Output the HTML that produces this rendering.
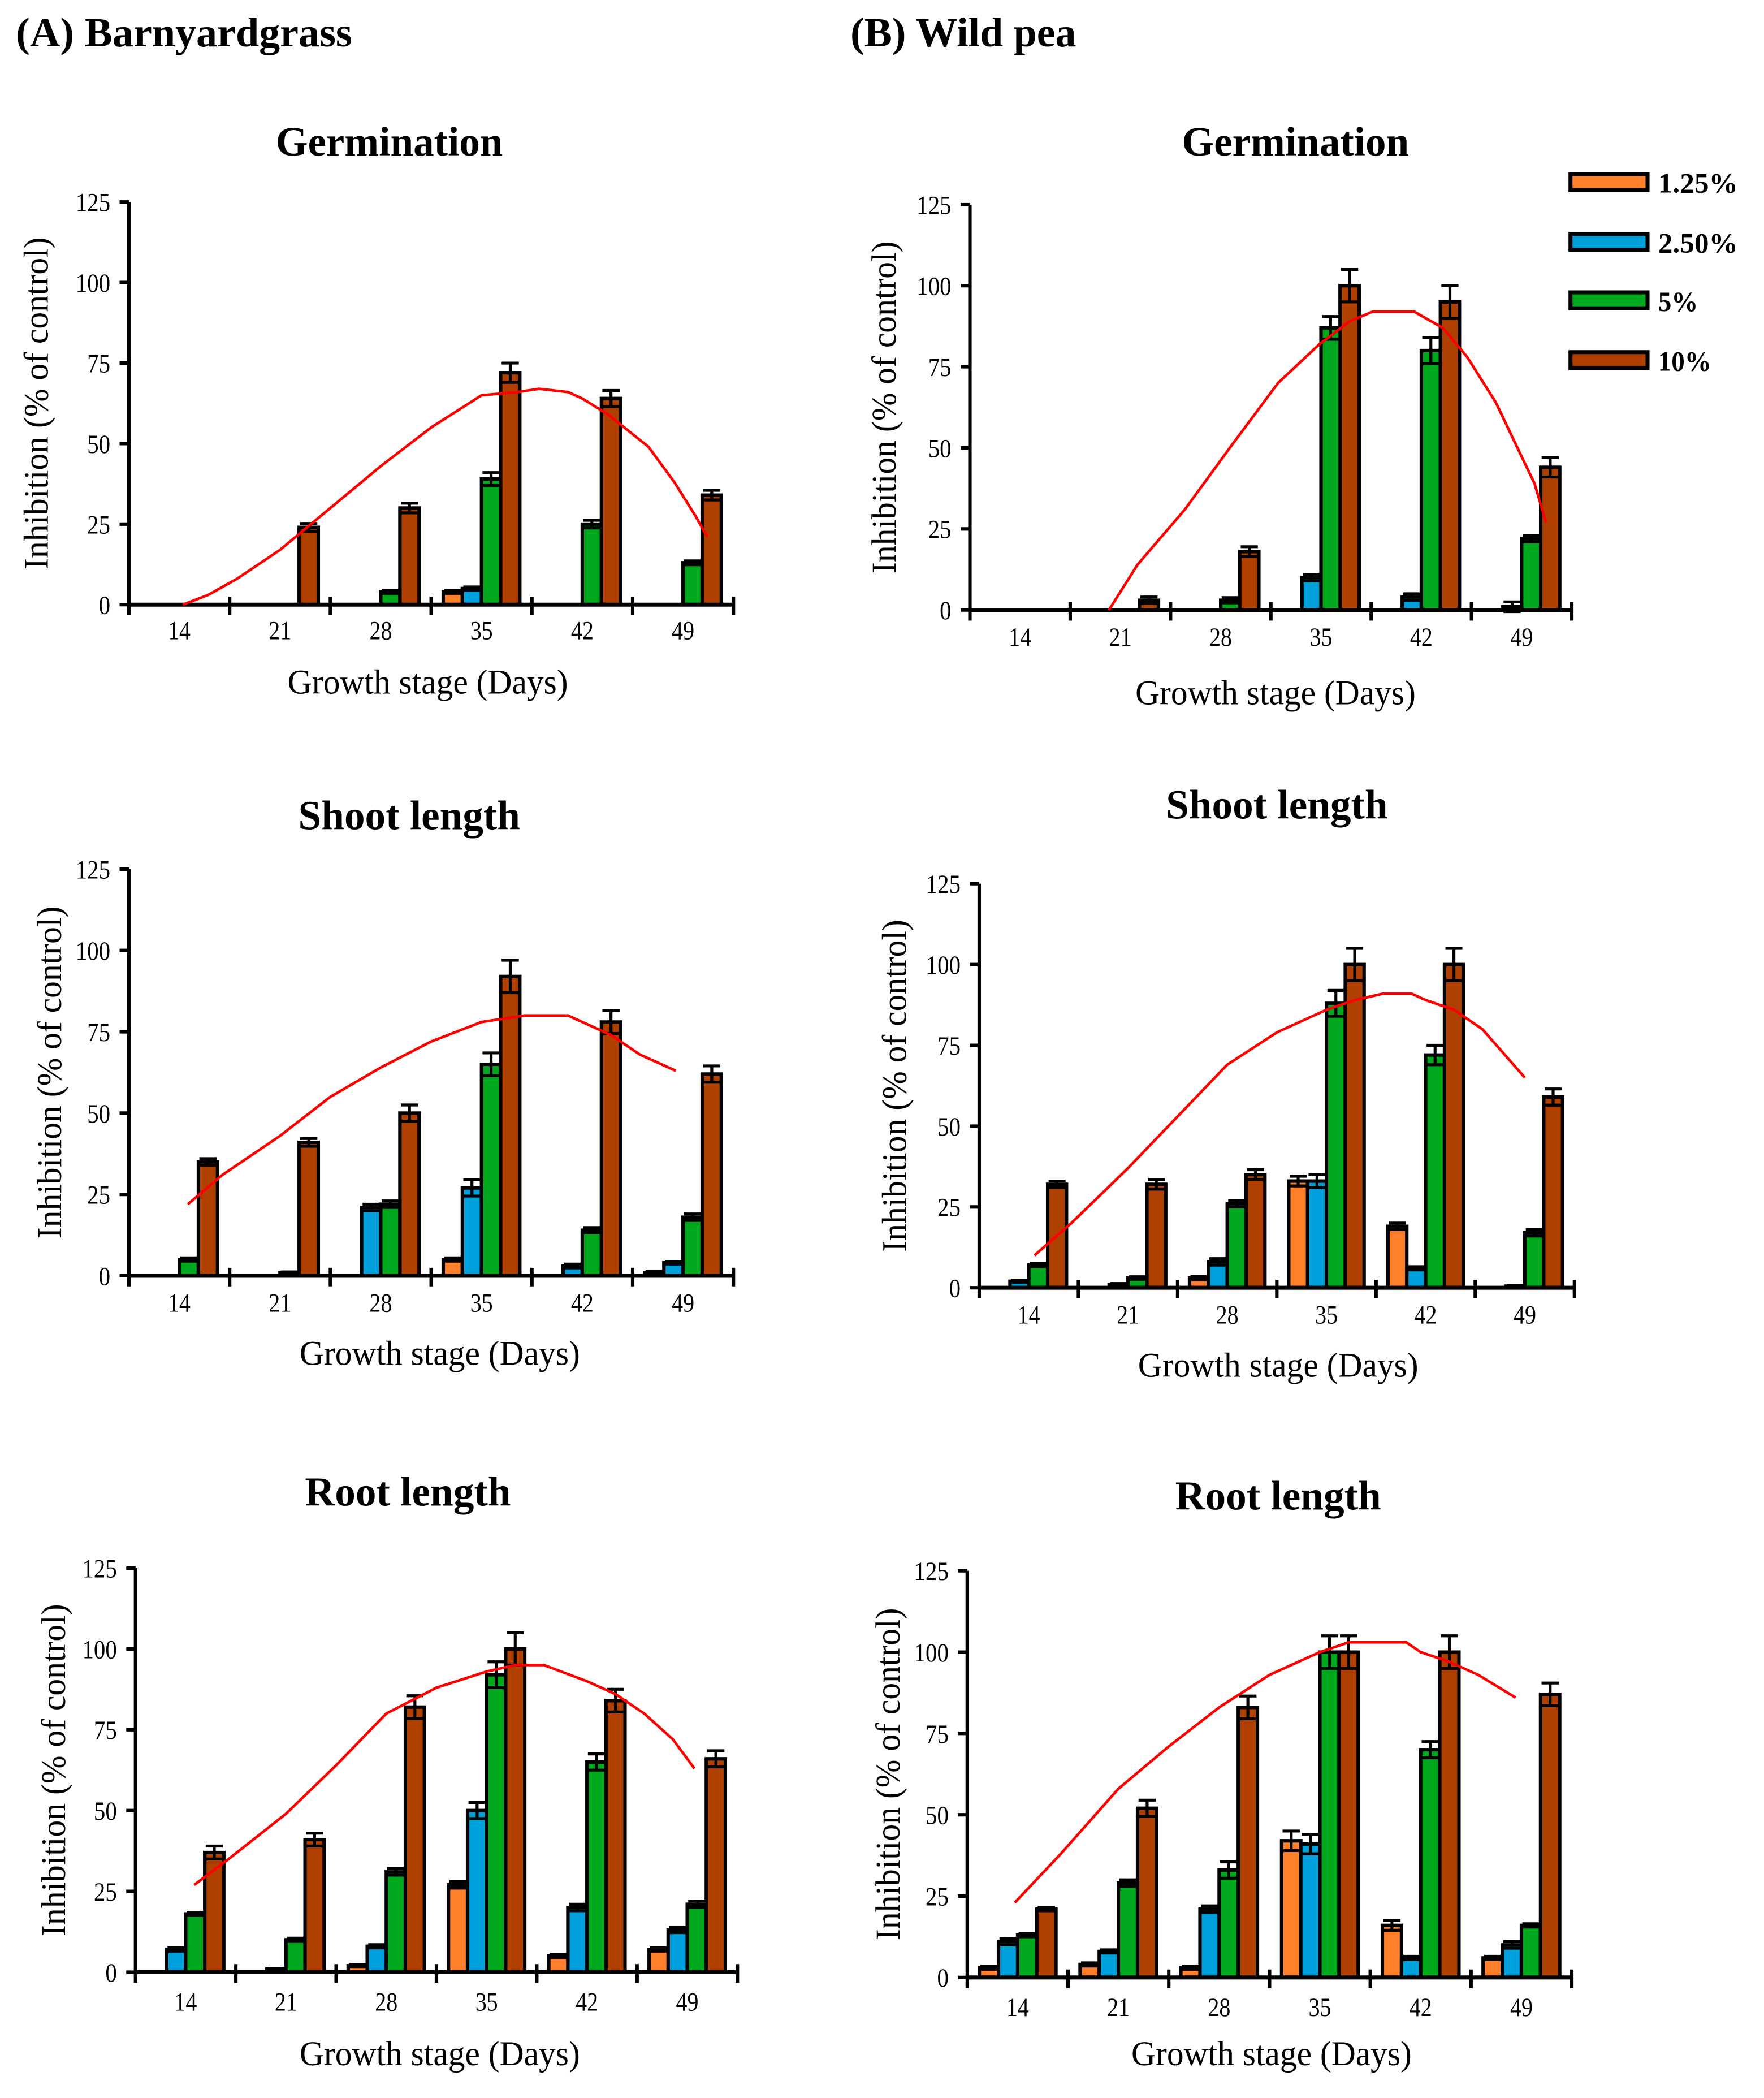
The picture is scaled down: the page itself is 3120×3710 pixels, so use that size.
<!DOCTYPE html>
<html><head><meta charset="utf-8"><style>
html,body{margin:0;padding:0;background:#fff;}
svg{display:block;}
</style></head><body>
<svg id="fig" width="3120" height="3710" viewBox="0 0 1327.66 1578.72" xmlns="http://www.w3.org/2000/svg" font-family="'Liberation Serif', serif">
<rect width="1327.66" height="1578.72" fill="#fff"/>
<text x="12" y="35" font-size="31" font-weight="bold" textLength="253" lengthAdjust="spacingAndGlyphs">(A) Barnyardgrass</text>
<text x="640" y="35" font-size="31" font-weight="bold" textLength="170" lengthAdjust="spacingAndGlyphs">(B) Wild pea</text>
<g>
<rect x="1182" y="131" width="58" height="12" fill="#FF7F2A" stroke="#000" stroke-width="3"/>
<text x="1248" y="145" font-size="21" font-weight="bold" textLength="60" lengthAdjust="spacingAndGlyphs">1.25%</text>
<rect x="1182" y="176" width="58" height="12" fill="#00A0DC" stroke="#000" stroke-width="3"/>
<text x="1248" y="190" font-size="21" font-weight="bold" textLength="60" lengthAdjust="spacingAndGlyphs">2.50%</text>
<rect x="1182" y="220" width="58" height="12" fill="#00A81E" stroke="#000" stroke-width="3"/>
<text x="1248" y="234" font-size="21" font-weight="bold" textLength="30" lengthAdjust="spacingAndGlyphs">5%</text>
<rect x="1182" y="265" width="58" height="12" fill="#B04000" stroke="#000" stroke-width="3"/>
<text x="1248" y="279" font-size="21" font-weight="bold" textLength="40" lengthAdjust="spacingAndGlyphs">10%</text>
</g>
</svg>
<script>
// ---- data ----
const categories = [14, 21, 28, 35, 42, 49];
const yTicks = [0, 25, 50, 75, 100, 125];
const seriesNames = ['1.25%', '2.50%', '5%', '10%'];

const aGermC125 = [0, 0, 0, 4, 0, 0];
const aGermC250 = [0, 0, 0, 5, 0, 0];
const aGermC5 = [0, 0, 4, 39, 25, 13];
const aGermC10 = [0, 24, 30, 72, 64, 34];
const aGermErr = [[0,0,0,0.5,0,0],[0,0,0,0.5,0,0],[0,0,0.5,2,1.2,0.6],[0,1.2,1.5,3,2.5,1.5]];
const aGermTrendX = [14.25,16,18,21,24.5,28,31.5,35,37.5,39,41,42,43.8,46.6,48.4,49.8,50.7];
const aGermTrendY = [0,3,8,17,30,43,55,65,66,67,66,64,59,49,38,28,21];

const bGermC125 = [0, 0, 0, 0, 0, 0];
const bGermC250 = [0, 0, 0, 10, 4, 1];
const bGermC5 = [0, 0, 3, 87, 80, 22];
const bGermC10 = [0, 3, 18, 100, 95, 44];
const bGermErr = [[0,0,0,0,0,0],[0,0,0,1,1,1.5],[0,0,0.8,3.5,4,1],[0,1,1.5,5,5,3]];
const bGermTrendX = [20.2,22.2,25.5,28.8,32,34.9,37,38.6,41.5,43.5,45.2,47.2,48.6,49.9,50.7];
const bGermTrendY = [0,14,31,51,70,82,89,92,92,87,78,64,51,39,27];

const aShootC125 = [0, 0, 0, 5, 0, 1];
const aShootC250 = [0, 0, 21, 27, 3, 4];
const aShootC5 = [5, 1, 22, 65, 14, 18];
const aShootC10 = [35, 41, 50, 92, 78, 62];
const aShootErr = [[0,0,0,0.5,0,0.3],[0,0,1,2.5,0.6,0.4],[0.5,0.2,1,3.5,0.8,1],[1,1.2,2.5,5,3.5,2.5]];
const aShootTrendX = [14.6,17,21,24.5,28,31.5,35,38,41,42,44,46,48.5];
const aShootTrendY = [22,31,43,55,64,72,78,80,80,78,74,68,63];

const bShootC125 = [0, 0, 3, 33, 19, 0];
const bShootC250 = [2, 1, 8, 33, 6, 0.5];
const bShootC5 = [7, 3, 26, 88, 72, 17];
const bShootC10 = [32, 32, 35, 100, 100, 59];
const bShootErr = [[0,0,0.5,1.5,1,0],[0.3,0.3,1,2,0.5,0.2],[0.5,0.4,1,4,3,1],[1,1.5,1.5,5,5,2.5]];
const bShootTrendX = [14.4,17,21,24.5,28,31.5,35,37,39,41,42,44,46,49];
const bShootTrendY = [10,20,37,53,69,79,86,89,91,91,89,86,80,65];

const aRootC125 = [0, 0, 2, 27, 5, 7];
const aRootC250 = [7, 1, 8, 50, 20, 13];
const aRootC5 = [18, 10, 31, 92, 65, 21];
const aRootC10 = [37, 41, 82, 100, 84, 66];
const aRootErr = [[0,0,0.3,1,0.5,0.5],[0.5,0.2,0.5,2.5,1,0.8],[0.5,0.5,1,4,2.5,1],[2,2,3.5,5,3.5,2.5]];
const aRootTrendX = [14.6,17,21,24.5,28,31.5,35,37,39,42,44,46,48,49.5];
const aRootTrendY = [27,35,49,64,80,88,93,95,95,90,86,80,72,63];

const bRootC125 = [3, 4, 3, 42, 16, 6];
const bRootC250 = [11, 8, 21, 41, 6, 10];
const bRootC5 = [13, 29, 33, 100, 70, 16];
const bRootC10 = [21, 52, 83, 100, 100, 87];
const bRootErr = [[0.5,0.5,0.5,3,1.5,0.5],[1,0.5,1,3,0.5,1],[0.5,1,2.5,5,2.5,0.5],[0.5,2.5,3.5,5,5,3.5]];
const bRootTrendX = [13.8,17,21,24.5,28,31.5,35,37,41,42,44,46,48.6];
const bRootTrendY = [23,38,58,71,83,93,100,103,103,100,97,93,86];

// ---- layout ----
const colors = ['#FF7F2A', '#00A0DC', '#00A81E', '#B04000'];
const panels = [
 {id:'a-germination', title:'Germination', x0:97, x1:552, y0:455, y1:152, tx:293, ty:107, tw:171, lx:322, ly:513, ylx:27, tly:474, s:[aGermC125,aGermC250,aGermC5,aGermC10], e:aGermErr, trx:aGermTrendX, try_:aGermTrendY},
 {id:'b-germination', title:'Germination', x0:730, x1:1183, y0:459, y1:154, tx:975, ty:107, tw:171, lx:960, ly:521, ylx:665, tly:479, s:[bGermC125,bGermC250,bGermC5,bGermC10], e:bGermErr, trx:bGermTrendX, try_:bGermTrendY},
 {id:'a-shoot', title:'Shoot length', x0:97, x1:552, y0:960, y1:654, tx:308, ty:614, tw:167, lx:331, ly:1018, ylx:37, tly:980, s:[aShootC125,aShootC250,aShootC5,aShootC10], e:aShootErr, trx:aShootTrendX, try_:aShootTrendY},
 {id:'b-shoot', title:'Shoot length', x0:737, x1:1185, y0:969, y1:665, tx:961, ty:606, tw:167, lx:962, ly:1027, ylx:673, tly:989, s:[bShootC125,bShootC250,bShootC5,bShootC10], e:bShootErr, trx:bShootTrendX, try_:bShootTrendY},
 {id:'a-root', title:'Root length', x0:102, x1:555, y0:1484, y1:1180, tx:307, ty:1123, tw:155, lx:331, ly:1545, ylx:40, tly:1506, s:[aRootC125,aRootC250,aRootC5,aRootC10], e:aRootErr, trx:aRootTrendX, try_:aRootTrendY},
 {id:'b-root', title:'Root length', x0:728, x1:1183, y0:1488, y1:1182, tx:962, ty:1126, tw:155, lx:957, ly:1545, ylx:668, tly:1510, s:[bRootC125,bRootC250,bRootC5,bRootC10], e:bRootErr, trx:bRootTrendX, try_:bRootTrendY}
];
const NS = 'http://www.w3.org/2000/svg';
const svg = document.getElementById('fig');
function mk(tag, attrs, parent) {
  const el = document.createElementNS(NS, tag);
  for (const k in attrs) el.setAttribute(k, attrs[k]);
  parent.appendChild(el);
  return el;
}
panels.forEach(p => {
  const g = mk('g', {}, svg);
  
  
  const n = categories.length;
  const cw = (p.x1 - p.x0) / n;
  const yS = v => p.y0 - (v / 125) * (p.y0 - p.y1);
  const xCat = i => p.x0 + i * cw;
  const xDay = d => p.x0 + cw * 0.5 + (d - categories[0]) / 7 * cw;
  const t = mk('text', {x:p.tx, y:p.ty + 10, 'text-anchor':'middle', 'font-size':31, 'font-weight':'bold', textLength:p.tw, lengthAdjust:'spacingAndGlyphs'}, g);
  t.textContent = p.title;
  
  
  const yl = mk('text', {x:0, y:0, transform:`translate(${p.ylx + 9},${(p.y0 + p.y1) / 2}) rotate(-90)`, 'text-anchor':'middle', 'font-size':26, textLength:250, lengthAdjust:'spacingAndGlyphs'}, g);
  yl.textContent = 'Inhibition (% of control)';
  
  
  const xl = mk('text', {x:p.lx, y:p.ly + 9, 'text-anchor':'middle', 'font-size':26, textLength:211, lengthAdjust:'spacingAndGlyphs'}, g);
  xl.textContent = 'Growth stage (Days)';
  
  
  yTicks.forEach(v => {
    const y = yS(v);
    const tk = mk('line', {x1:p.x0 - 7, x2:p.x0, y1:y, y2:y, stroke:'#000', 'stroke-width':2.6}, g);
    
    
    const lb = mk('text', {x:p.x0 - 14, y:y + 7, 'text-anchor':'end', 'font-size':20, textLength:String(v).length * 8.7, lengthAdjust:'spacingAndGlyphs'}, g);
    lb.textContent = v;
    
    
  });
  p.s.forEach((vals, si) => {
    vals.forEach((v, ci) => {
      if (v <= 0) return;
      const bx = xCat(ci) + cw * 0.12 + si * cw * 0.19;
      const bw = cw * 0.19;
      const r = mk('rect', {x:bx, y:yS(v), width:bw, height:p.y0 - yS(v), fill:colors[si], stroke:'#000', 'stroke-width':2.6}, g);
      
      
      const e = p.e[si][ci];
      const cx = bx + bw / 2;
      const eb = mk('path', {d:`M${cx},${yS(v - e)}V${yS(v + e)}M${cx - bw * 0.45},${yS(v + e)}H${cx + bw * 0.45}M${cx - bw * 0.45},${yS(v - e)}H${cx + bw * 0.45}`, stroke:'#000', 'stroke-width':2.2, fill:'none'}, g);
      
      
    });
  });
  const ya = mk('line', {x1:p.x0, x2:p.x0, y1:p.y1, y2:p.y0 + 8, stroke:'#000', 'stroke-width':2.6}, g);
  
  
  const xa = mk('line', {x1:p.x0, x2:p.x1, y1:p.y0, y2:p.y0, stroke:'#000', 'stroke-width':3}, g);
  
  
  for (let i = 1; i <= n; i++) {
    const tk = mk('line', {x1:xCat(i), x2:xCat(i), y1:p.y0 - 6, y2:p.y0 + 8, stroke:'#000', 'stroke-width':2.6}, g);
    
    
  }
  categories.forEach((c, i) => {
    const lb = mk('text', {x:xCat(i) + cw / 2, y:p.tly + 7, 'text-anchor':'middle', 'font-size':20, textLength:17, lengthAdjust:'spacingAndGlyphs'}, g);
    lb.textContent = c;
    
    
  });
  const pts = p.trx.map((d, i) => `${xDay(d)},${yS(p.try_[i])}`).join(' ');
  const tl = mk('polyline', {points:pts, fill:'none', stroke:'#FF0000', 'stroke-width':2}, g);
  
  
});
</script>
</body></html>
